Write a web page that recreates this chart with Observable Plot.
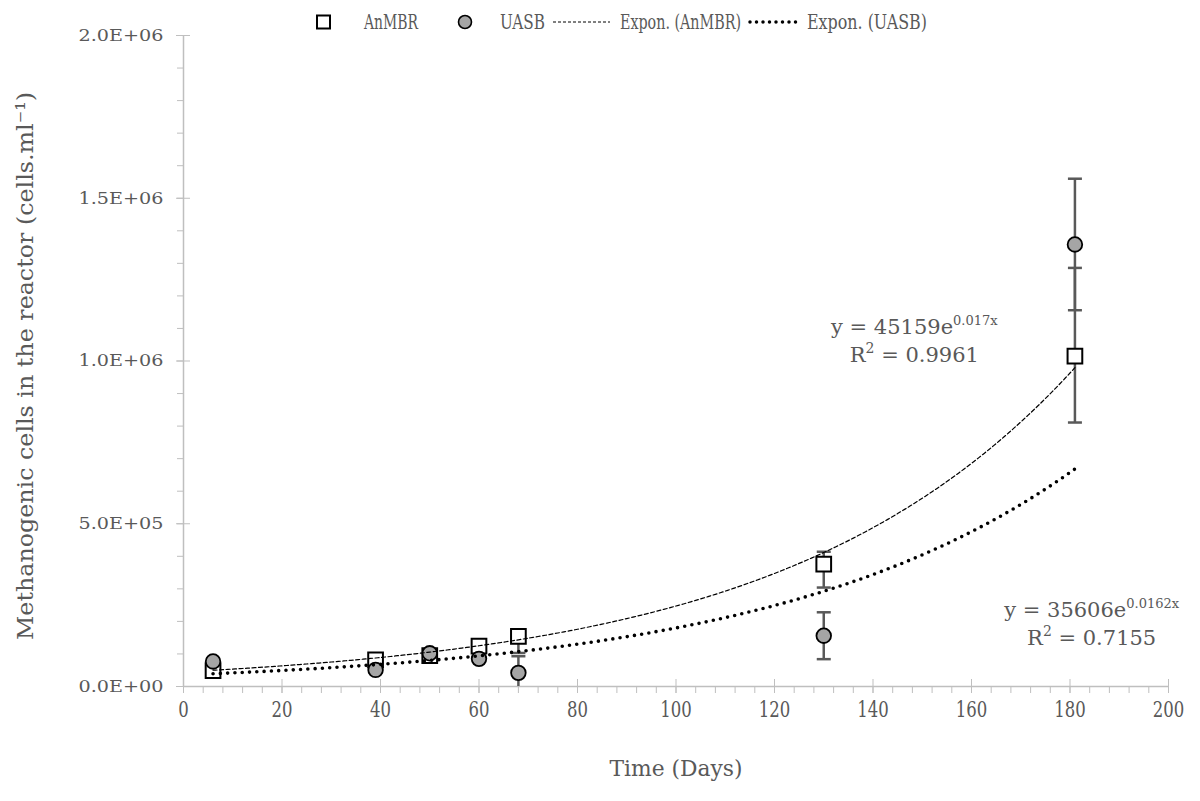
<!DOCTYPE html>
<html>
<head>
<meta charset="utf-8">
<script src="https://cdn.jsdelivr.net/npm/d3@7"></script>
<script src="https://cdn.jsdelivr.net/npm/@observablehq/plot@0.6"></script>
<style>
  html, body { margin: 0; padding: 0; background: #fff; }
</style>
</head>
<body>
<div id="chart"></div>
<script>
// Sampling days
const days = [6, 39, 50, 60, 68, 130, 181];

// Methanogenic cell counts (cells/ml) and error bar extents
const anmbr = [49000, 82000, 95000, 124000, 154000, 376000, 1015000];
const anmbrErrUp = [8000, 8000, 8000, 8000, 10000, 38000, 271000];
const anmbrErrDown = [8000, 8000, 8000, 8000, 51000, 72000, 204000];
const uasb = [77000, 51000, 102000, 85000, 42000, 156000, 1358000];
const uasbErr = [8000, 8000, 8000, 8000, 51000, 72000, 202000];

// Exponential trendlines y = a·e^(b·x): AnMBR, UASB
const fitA = [45159, 35606];
const fitB = [0.017, 0.0162];
const fitR2 = ["0.9961", "0.7155"];
const fitStart = 6, fitEnd = 181;
// Equation label anchors (days, cells/ml)
const eqX = [148.5, 184.5];
const eqY = [1.08e6, 2.12e5];

// Axis ticks
const xTicks = d3.range(0, 201, 20);
const xMinor = d3.range(0, 201, 4);
const yTicks = [0, 5e5, 1e6, 1.5e6, 2e6];
const yTickLabels = ["0.0E+00", "5.0E+05", "1.0E+06", "1.5E+06", "2.0E+06"];
const yMinor = d3.range(0, 2e6 + 1, 1e5);

// Titles and legend entries
const xTitle = "Time (Days)";
const yTitle = "Methanogenic cells in the reactor (cells.ml⁻¹)";
const legendLabels = ["AnMBR", "UASB", "Expon. (AnMBR)", "Expon. (UASB)"];

const axisGray = "#bfbfbf";
const textGray = "#595959";
const barGray = "#595959";
const serif = "'DejaVu Serif', 'Liberation Serif', serif";

const anmbrRows = days.map((d, i) => ({day: d, v: anmbr[i], lo: anmbr[i] - anmbrErrDown[i], hi: anmbr[i] + anmbrErrUp[i]}));
const uasbRows = days.map((d, i) => ({day: d, v: uasb[i], lo: uasb[i] - uasbErr[i], hi: uasb[i] + uasbErr[i]}));
const barRows = [...uasbRows, ...anmbrRows];

const fitDays = d3.range(fitStart, fitEnd + 0.001, 0.5);
const fitRows = fitA.map((a, k) => fitDays.map(x => ({day: x, v: a * Math.exp(fitB[k] * x)})));

// horizontal cap for the error bars
const cap = {draw(ctx) { ctx.moveTo(-7, 0); ctx.lineTo(7, 0); }};

const plot = Plot.plot({
  width: 1200,
  height: 801,
  marginLeft: 183,
  marginRight: 32,
  marginTop: 35,
  marginBottom: 115,
  style: {background: "#fff", fontFamily: serif},
  x: {domain: [0, 200], axis: null, label: null},
  y: {domain: [0, 2e6], axis: null, label: null},
  marks: [
    // axis lines
    Plot.ruleX([0], {stroke: axisGray, strokeWidth: 1.5}),
    Plot.ruleY([0], {stroke: axisGray, strokeWidth: 1.5}),
    // minor and major (crossing) ticks
    Plot.axisY(yMinor, {tickSize: 6, stroke: axisGray, fill: "none", label: null}),
    Plot.axisY(yTicks, {tickSize: 14, dx: 7, stroke: axisGray, fill: "none", label: null}),
    Plot.axisY(yTicks, {tickSize: 0, tickPadding: 20, tickFormat: d => yTickLabels[yTicks.indexOf(d)],
      fill: textGray, fontSize: 17, label: null}),
    Plot.axisX(xMinor, {tickSize: 7, stroke: axisGray, fill: "none", label: null}),
    Plot.axisX(xTicks, {tickSize: 14, dy: -7, stroke: axisGray, fill: "none", label: null}),
    Plot.axisX(xTicks, {tickSize: 0, tickPadding: 15, fill: textGray, fontSize: 22, label: null}),
    // axis titles
    Plot.text([yTitle], {frameAnchor: "left", textAnchor: "middle", rotate: -90, dx: -158, dy: 5,
      fill: textGray, fontSize: 23}),
    Plot.text([xTitle], {frameAnchor: "bottom", dy: 89, fill: textGray, fontSize: 23}),
    // error bars
    Plot.ruleX(barRows, {x: "day", y1: "lo", y2: "hi", stroke: barGray, strokeWidth: 2.5, clip: true}),
    Plot.dot(barRows, {x: "day", y: "lo", symbol: cap, stroke: barGray, strokeWidth: 2.5, fill: "none", clip: true}),
    Plot.dot(barRows, {x: "day", y: "hi", symbol: cap, stroke: barGray, strokeWidth: 2.5, fill: "none", clip: true}),
    // observations
    Plot.dot(anmbrRows, {x: "day", y: "v", symbol: "square", r: 8.3, fill: "#fff", stroke: "#000", strokeWidth: 2}),
    Plot.dot(uasbRows, {x: "day", y: "v", r: 7.3, fill: "#a5a5a5", stroke: "#000", strokeWidth: 1.8}),
    // exponential trendlines
    Plot.line(fitRows[0], {x: "day", y: "v", stroke: "#000", strokeWidth: 1.2, strokeDasharray: "4,2.5"}),
    Plot.line(fitRows[1], {x: "day", y: "v", stroke: "#000", strokeWidth: 3.6, strokeDasharray: "0,7.3", strokeLinecap: "round"})
  ]
});

document.getElementById("chart").appendChild(plot);

const svg = d3.select(plot);
const sx = plot.scale("x"), sy = plot.scale("y");

// fit a text element to a given rendered width
function fitWidth(node, w) {
  node.setAttribute("textLength", w);
  node.setAttribute("lengthAdjust", "spacingAndGlyphs");
}

svg.selectAll('g[aria-label="y-axis tick label"] text').each(function() { fitWidth(this, 85); });
svg.selectAll('g[aria-label="x-axis tick label"] text').each(function() { fitWidth(this, this.textContent.length * 10.5); });
svg.selectAll("text").each(function() {
  if (this.textContent === yTitle) fitWidth(this, 548);
  if (this.textContent === xTitle) fitWidth(this, 133);
});

// trendline equations with superscripts
const eq = svg.append("g")
  .attr("font-size", 21).attr("fill", textGray).attr("text-anchor", "middle");
fitA.forEach((a, i) => {
  const x = sx.apply(eqX[i]), y = sy.apply(eqY[i]);
  const t1 = eq.append("text").attr("x", x).attr("y", y);
  t1.append("tspan").text(`y = ${a}e`);
  t1.append("tspan").attr("font-size", 13).attr("dy", -9).text(`${fitB[i]}x`);
  const t2 = eq.append("text").attr("x", x).attr("y", y + 28);
  t2.append("tspan").text("R");
  t2.append("tspan").attr("font-size", 14).attr("dy", -9).text("2");
  t2.append("tspan").attr("dy", 9).text(` = ${fitR2[i]}`);
});

// legend
const lg = svg.append("g").attr("font-size", 21).attr("fill", textGray).attr("text-anchor", "start");
const ly = 22;
const legText = (x, s, w) => fitWidth(lg.append("text").attr("x", x).attr("y", ly).attr("dy", "0.35em").text(s).node(), w);
lg.append("rect").attr("x", 317).attr("y", ly - 6.5).attr("width", 13).attr("height", 13)
  .attr("fill", "#fff").attr("stroke", "#000").attr("stroke-width", 2);
legText(364, legendLabels[0], 54);
lg.append("circle").attr("cx", 465).attr("cy", ly).attr("r", 6.5)
  .attr("fill", "#a5a5a5").attr("stroke", "#000").attr("stroke-width", 1.6);
legText(500, legendLabels[1], 45);
lg.append("line").attr("x1", 553).attr("x2", 610).attr("y1", ly).attr("y2", ly)
  .attr("stroke", "#000").attr("stroke-width", 1).attr("stroke-dasharray", "3,2");
legText(620, legendLabels[2], 121);
lg.append("line").attr("x1", 750).attr("x2", 800).attr("y1", ly).attr("y2", ly)
  .attr("stroke", "#000").attr("stroke-width", 3.5).attr("stroke-dasharray", "0,6.5").attr("stroke-linecap", "round");
legText(807, legendLabels[3], 120);
</script>
</body>
</html>
